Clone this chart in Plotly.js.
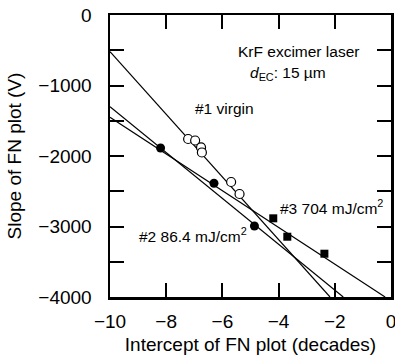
<!DOCTYPE html>
<html>
<head>
<meta charset="utf-8">
<script src="https://cdn.plot.ly/plotly-3.0.1.min.js"></script>
<style>html,body{margin:0;padding:0;background:#fff;}#chart{width:395px;height:358px;}</style>
</head>
<body>
<div id="chart"></div>
<script>
// #1 virgin (open circles)
const virginX = [-7.22, -6.97, -6.76, -6.73, -5.69, -5.39];
const virginY = [-1759, -1780, -1879, -1950, -2369, -2539];
// #2 86.4 mJ/cm2 (filled circles)
const dose86X = [-8.20, -6.30, -4.86];
const dose86Y = [-1887, -2387, -2993];
// #3 704 mJ/cm2 (filled squares)
const dose704X = [-4.19, -3.69, -2.37];
const dose704Y = [-2884, -3145, -3386];
// fitted lines (endpoints)
const fit1X = [-10, -2.17], fit1Y = [-520, -4000];
const fit2X = [-10, -1.70], fit2Y = [-1301, -4000];
const fit3X = [-10, -0.21], fit3Y = [-1451, -4000];

const yTickVals = [0, -1000, -2000, -3000, -4000];
const yTickText = ['0', '\u22121000', '\u22122000', '\u22123000', '\u22124000'];
const yMinorVals = [-500, -1500, -2500, -3500];
const xTickVals = [-10, -8, -6, -4, -2, 0];
const xTickText = ['\u221210', '\u22128', '\u22126', '\u22124', '\u22122', '0'];

const FONT = 'Liberation Sans, Arial, Helvetica, sans-serif';
const lineStyle = {color: '#000', width: 1.2};

const traces = [
  {x: fit1X, y: fit1Y, mode: 'lines', line: lineStyle, hoverinfo: 'skip'},
  {x: fit2X, y: fit2Y, mode: 'lines', line: lineStyle, hoverinfo: 'skip'},
  {x: fit3X, y: fit3Y, mode: 'lines', line: lineStyle, hoverinfo: 'skip'},
  {x: virginX, y: virginY, mode: 'markers', name: '#1 virgin',
   marker: {symbol: 'circle', size: 9, color: '#fff', line: {color: '#000', width: 1.2}}},
  {x: dose86X, y: dose86Y, mode: 'markers', name: '#2 86.4 mJ/cm2',
   marker: {symbol: 'circle', size: 9, color: '#000'}},
  {x: dose704X, y: dose704Y, mode: 'markers', name: '#3 704 mJ/cm2',
   marker: {symbol: 'square', size: 8, color: '#000'}}
];

const annFont = {family: FONT, size: 15.5, color: '#000'};
const layout = {
  width: 395, height: 358,
  margin: {l: 110, r: 4, t: 15, b: 61},
  paper_bgcolor: '#fff', plot_bgcolor: '#fff',
  showlegend: false,
  font: {family: FONT, size: 19, color: '#000'},
  xaxis: {
    range: [-10, 0], tickvals: xTickVals, ticktext: xTickText,
    ticks: 'inside', ticklen: 14, tickwidth: 2, tickcolor: '#000',
    showline: true, linewidth: 2.5, linecolor: '#000', mirror: 'ticks',
    showgrid: false, zeroline: false, ticklabelstandoff: 6,
    ticklabeloverflow: 'allow',
    tickfont: {family: FONT, size: 19, color: '#000'},
    title: {text: 'Intercept of FN plot (decades)', font: {family: FONT, size: 19, color: '#000'}, standoff: 7}
  },
  yaxis: {
    range: [-4000, 0], tickvals: yTickVals, ticktext: yTickText,
    ticks: 'inside', ticklen: 14, tickwidth: 2, tickcolor: '#000',
    minor: {tickvals: yMinorVals, ticks: 'inside', ticklen: 14, tickwidth: 2, tickcolor: '#000', showgrid: false},
    showline: true, linewidth: 2.5, linecolor: '#000', mirror: 'ticks',
    showgrid: false, zeroline: false, ticklabelstandoff: 12,
    ticklabeloverflow: 'allow',
    tickfont: {family: FONT, size: 19, color: '#000'},
    title: {text: 'Slope of FN plot (V)', font: {family: FONT, size: 19, color: '#000'}, standoff: 12}
  },
  annotations: [
    {x: -3.30, y: -521, xref: 'x', yref: 'y', text: 'KrF excimer laser', showarrow: false, font: annFont},
    {x: -3.68, y: -827, xref: 'x', yref: 'y', text: '<i>d</i><sub>EC</sub>: 15 \u00b5m', showarrow: false, font: annFont},
    {x: -5.93, y: -1323, xref: 'x', yref: 'y', text: '#1 virgin', showarrow: false, font: annFont},
    {x: -9.05, y: -3121, xref: 'x', yref: 'y', xanchor: 'left', text: '#2 86.4 mJ/cm<sup>2</sup>', showarrow: false, font: annFont},
    {x: -4.02, y: -2728, xref: 'x', yref: 'y', xanchor: 'left', text: '#3 704 mJ/cm<sup>2</sup>', showarrow: false, font: annFont}
  ]
};

Plotly.newPlot('chart', traces, layout, {displayModeBar: false, staticPlot: true});
</script>
</body>
</html>
